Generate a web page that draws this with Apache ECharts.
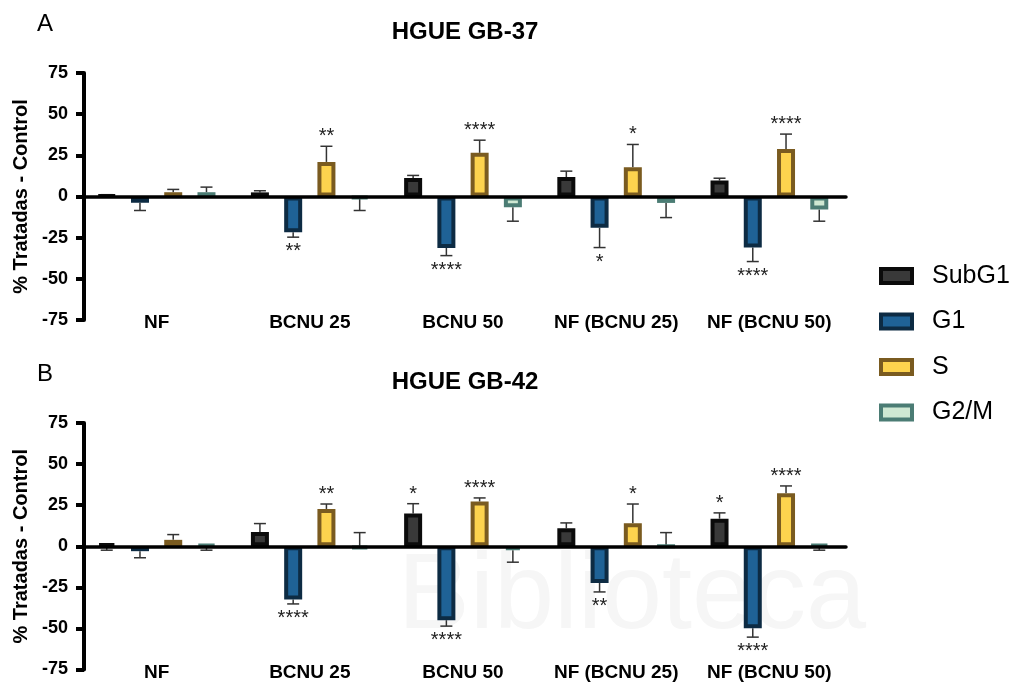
<!DOCTYPE html>
<html>
<head>
<meta charset="utf-8">
<script src="https://cdn.jsdelivr.net/npm/echarts@6/dist/echarts.min.js"></script>
<style>
  html, body { margin: 0; padding: 0; background: #fff; }
  #chart { width: 1015px; height: 682px; }
</style>
</head>
<body>
<div id="chart"></div>
<script>
const categories = ['NF', 'BCNU 25', 'BCNU 50', 'NF (BCNU 25)', 'NF (BCNU 50)'];
const phases = ['SubG1', 'G1', 'S', 'G2/M'];
const yTicks = [-75, -50, -25, 0, 25, 50, 75];

// HGUE GB-37 (A) - mean, signed error bar length, significance
const gb37SubG1 = [0.6, 2.5, 11.3, 11.8, 9.7];
const gb37SubG1Err = [0.5, 1, 1.5, 3.6, 1.4];
const gb37SubG1Sig = ['', '', '', '', ''];
const gb37G1 = [-3.8, -21.7, -31.2, -19, -31];
const gb37G1Err = [-4.7, -3, -4.7, -12, -8.5];
const gb37G1Sig = ['', '**', '****', '*', '****'];
const gb37S = [2.6, 21, 26.5, 17.8, 28.8];
const gb37SErr = [1.7, 9.5, 7.7, 13.8, 9.1];
const gb37SSig = ['', '**', '****', '*', '****'];
const gb37G2M = [2.6, -1.2, -6.5, -3.9, -7.9];
const gb37G2MErr = [3.1, -7.3, -8.5, -8.9, -7.1];
const gb37G2MSig = ['', '', '', '', ''];

// HGUE GB-42 (B)
const gb42SubG1 = [1.6, 8.7, 19.9, 10.9, 16.8];
const gb42SubG1Err = [-4, 5.1, 6, 3.3, 3.5];
const gb42SubG1Sig = ['', '', '*', '', '*'];
const gb42G1 = [-3, -32.4, -45, -22.3, -49.9];
const gb42G1Err = [-4, -2.7, -3.6, -5.5, -5.4];
const gb42G1Sig = ['', '****', '****', '**', '****'];
const gb42S = [3.9, 22.7, 27.2, 14, 32.2];
const gb42SErr = [3.2, 3, 2.2, 11.7, 4.5];
const gb42SSig = ['', '**', '****', '*', '****'];
const gb42G2M = [1, -1.6, -2.4, 0, 1];
const gb42G2MErr = [-3.4, 9.9, -7.3, 8.3, -3.4];
const gb42G2MSig = ['', '', '', '', ''];

const fills = ['#393939', '#1f6296', '#fdd34e', '#cfe8d3'];
const borders = ['#0b0b0b', '#0d2b43', '#7a5b20', '#4b7c74'];
const FONT = '"Liberation Sans", Arial, sans-serif';
const BAR_W = 18;
const BAR_STEP = 33.25;

const panels = [
  {
    top: 73, title: 'HGUE GB-37', letter: 'A',
    vals: [gb37SubG1, gb37G1, gb37S, gb37G2M],
    errs: [gb37SubG1Err, gb37G1Err, gb37SErr, gb37G2MErr],
    sigs: [gb37SubG1Sig, gb37G1Sig, gb37SSig, gb37G2MSig]
  },
  {
    top: 423, title: 'HGUE GB-42', letter: 'B',
    vals: [gb42SubG1, gb42G1, gb42S, gb42G2M],
    errs: [gb42SubG1Err, gb42G1Err, gb42SErr, gb42G2MErr],
    sigs: [gb42SubG1Sig, gb42G1Sig, gb42SSig, gb42G2MSig]
  }
];

const grid = [], xAxis = [], yAxis = [], series = [], graphic = [];

panels.forEach((p, g) => {
  grid.push({ left: 80, width: 766, top: p.top, height: 247 });

  // zero line with ticks
  xAxis.push({
    type: 'category', gridIndex: g, data: categories, z: 5,
    axisLine: { onZero: true, lineStyle: { color: '#000', width: 3.5 } },
    axisTick: { alignWithLabel: true, length: 9, lineStyle: { color: '#000', width: 3.5 } },
    axisLabel: { show: false }
  });
  // category labels at bottom
  xAxis.push({
    type: 'category', gridIndex: g, data: categories, position: 'bottom',
    axisLine: { show: false, onZero: false }, axisTick: { show: false },
    axisLabel: { interval: 0, color: '#000', fontSize: 19, fontWeight: 'bold', fontFamily: FONT, verticalAlign: 'middle', margin: 3 }
  });

  yAxis.push({
    type: 'value', gridIndex: g, min: yTicks[0], max: yTicks[yTicks.length - 1], interval: 25, offset: -4,
    name: '% Tratadas - Control', nameLocation: 'middle', nameGap: 52, nameRotate: 90,
    nameTextStyle: { color: '#000', fontSize: 20, fontWeight: 'bold', fontFamily: FONT },
    axisLine: { show: true, lineStyle: { color: '#000', width: 4 } },
    axisTick: { show: true, length: 8, lineStyle: { color: '#000', width: 4 } },
    axisLabel: { color: '#000', fontSize: 18, fontWeight: 'bold', fontFamily: FONT, margin: 16 },
    splitLine: { show: false }
  });

  phases.forEach((name, i) => {
    series.push({
      type: 'bar', name, xAxisIndex: g * 2, yAxisIndex: g,
      barWidth: BAR_W, barGap: (BAR_STEP / BAR_W - 1) * 100 + '%',
      itemStyle: { color: fills[i], borderColor: borders[i], borderWidth: 4 },
      emphasis: { disabled: true },
      data: p.vals[i]
    });
  });

  const items = [];
  phases.forEach((name, i) => {
    categories.forEach((c, k) => {
      items.push({ cat: k, ph: i, mean: p.vals[i][k], err: p.errs[i][k], sig: p.sigs[i][k] });
    });
  });

  series.push({
    type: 'custom', xAxisIndex: g * 2, yAxisIndex: g, z: 1,
    data: items.map(d => [d.cat, d.mean, d.mean + d.err]),
    renderItem: (params, api) => {
      const d = items[params.dataIndex];
      const base = api.coord([d.cat, d.mean]);
      const end = api.coord([d.cat, d.mean + d.err]);
      const x = base[0] + (d.ph - 1.5) * BAR_STEP;
      const children = [
        { type: 'line', shape: { x1: x, y1: base[1], x2: x, y2: end[1] }, style: { stroke: '#333', lineWidth: 1.5 } },
        { type: 'line', shape: { x1: x - 6, y1: end[1], x2: x + 6, y2: end[1] }, style: { stroke: '#333', lineWidth: 1.5 } }
      ];
      if (d.sig) {
        const up = d.mean >= 0;
        children.push({
          type: 'text', x: x, y: up ? end[1] - 9.5 : end[1] + 14.5, z2: 10,
          style: { text: d.sig, fill: '#222', fontSize: 20, fontFamily: FONT, align: 'center', verticalAlign: 'middle' }
        });
      }
      return { type: 'group', children };
    }
  });

  graphic.push({
    type: 'text', x: 465, y: p.top - 41,
    style: { text: p.title, fill: '#000', fontSize: 24, fontWeight: 'bold', fontFamily: FONT, align: 'center', verticalAlign: 'middle' }
  });
  graphic.push({
    type: 'text', x: 45, y: p.top - 49,
    style: { text: p.letter, fill: '#000', fontSize: 24, fontFamily: FONT, align: 'center', verticalAlign: 'middle' }
  });
});

// faint watermark from the scanned page
graphic.unshift({
  type: 'text', x: 632, y: 598, z: -10,
  style: { text: 'Biblioteca', fill: '#f6f6f6', fontSize: 108, fontFamily: FONT, align: 'center', verticalAlign: 'middle' }
});

const chart = echarts.init(document.getElementById('chart'));
chart.setOption({
  animation: false,
  backgroundColor: '#fff',
  textStyle: { fontFamily: FONT },
  grid, xAxis, yAxis, series, graphic,
  legend: {
    data: phases, orient: 'vertical', left: 879, top: 263,
    itemWidth: 31, itemHeight: 14, itemGap: 19.5, padding: 0, icon: 'rect',
    itemStyle: { borderWidth: 4 },
    textStyle: { color: '#000', fontSize: 25, lineHeight: 26, fontFamily: FONT, padding: [0, 0, 0, 15] }
  }
});
</script>
</body>
</html>
